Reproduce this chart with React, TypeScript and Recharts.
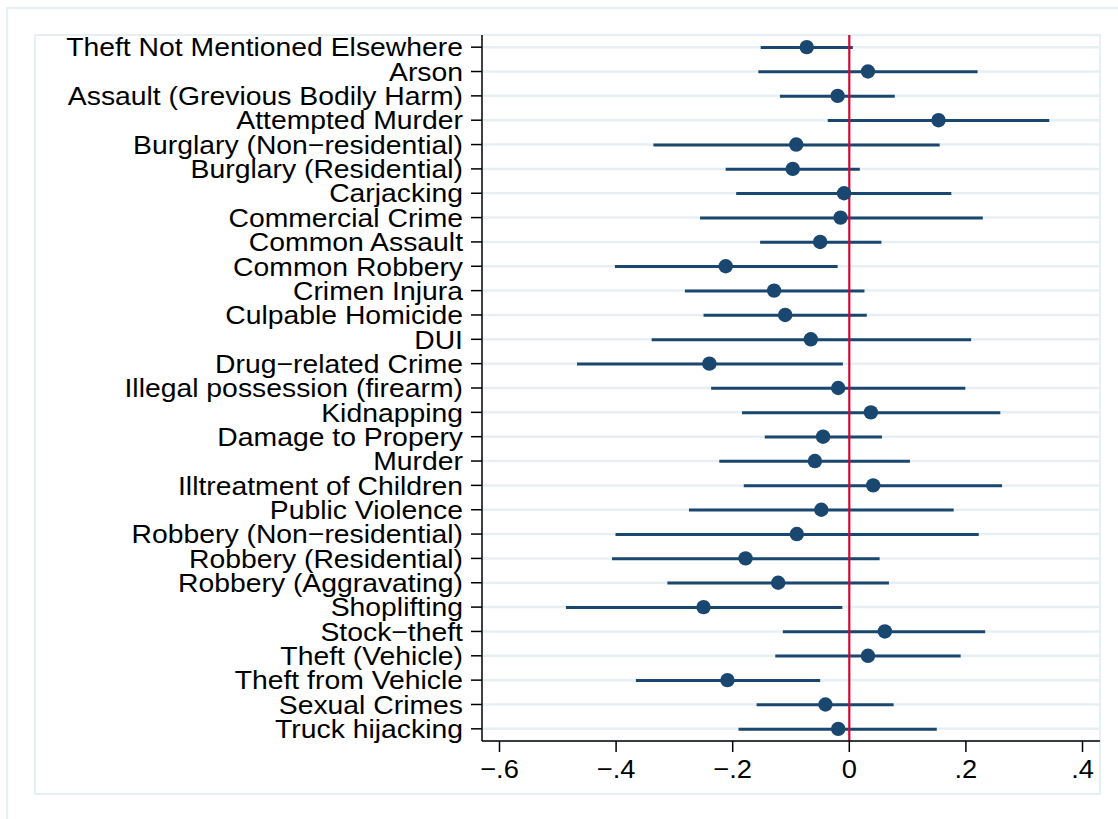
import { Bar, CartesianGrid, ComposedChart, Line, ReferenceLine, XAxis, YAxis } from "recharts";

// coefficient plot: point estimate + 95% CI per crime category
const categories = [
  "Theft Not Mentioned Elsewhere",
  "Arson",
  "Assault (Grevious Bodily Harm)",
  "Attempted Murder",
  "Burglary (Non−residential)",
  "Burglary (Residential)",
  "Carjacking",
  "Commercial Crime",
  "Common Assault",
  "Common Robbery",
  "Crimen Injura",
  "Culpable Homicide",
  "DUI",
  "Drug−related Crime",
  "Illegal possession (firearm)",
  "Kidnapping",
  "Damage to Propery",
  "Murder",
  "Illtreatment of Children",
  "Public Violence",
  "Robbery (Non−residential)",
  "Robbery (Residential)",
  "Robbery (Aggravating)",
  "Shoplifting",
  "Stock−theft",
  "Theft (Vehicle)",
  "Theft from Vehicle",
  "Sexual Crimes",
  "Truck hijacking",
];

const estimates = [
  -0.073, 0.032, -0.02, 0.153, -0.091, -0.097, -0.009, -0.015, -0.05, -0.212,
  -0.129, -0.11, -0.066, -0.24, -0.019, 0.037, -0.045, -0.059, 0.041, -0.048,
  -0.09, -0.178, -0.122, -0.25, 0.061, 0.032, -0.209, -0.041, -0.019,
];

const lower = [
  -0.152, -0.156, -0.119, -0.037, -0.336, -0.212, -0.194, -0.256, -0.153, -0.402,
  -0.282, -0.25, -0.339, -0.467, -0.237, -0.184, -0.145, -0.223, -0.181, -0.275,
  -0.401, -0.407, -0.312, -0.486, -0.114, -0.127, -0.366, -0.159, -0.19,
];

const upper = [
  0.006, 0.22, 0.078, 0.343, 0.155, 0.018, 0.175, 0.229, 0.055, -0.02,
  0.026, 0.03, 0.209, -0.011, 0.199, 0.259, 0.056, 0.104, 0.262, 0.179,
  0.222, 0.052, 0.068, -0.012, 0.233, 0.191, -0.05, 0.076, 0.15,
];

const xTicks = [-0.6, -0.4, -0.2, 0, 0.2, 0.4];

const data = categories.map((name, i) => ({
  name,
  est: estimates[i],
  ci: [lower[i], upper[i]],
}));

const NAVY = "#1a476f";
const FRAME = "#e8eff2";
const FONT = "'Liberation Sans', Arial, Helvetica, sans-serif";
const FS = 26;
const STRETCH = 1.09;

function fmtTick(v: number) {
  if (v === 0) return "0";
  const s = String(Math.abs(v)).replace(/^0/, "");
  return (v < 0 ? "−" : "") + s;
}

function YTick({ x, y, payload }: any) {
  return (
    <text
      transform={`translate(${x},${y}) scale(${STRETCH},1)`}
      textAnchor="end"
      dy="0.355em"
      fontSize={FS}
      fontFamily={FONT}
      fill="#000"
    >
      {payload.value}
    </text>
  );
}

function XTick({ x, y, payload }: any) {
  return (
    <text
      transform={`translate(${x},${y}) scale(1.05,1)`}
      textAnchor="middle"
      dy="0.71em"
      fontSize={FS}
      fontFamily={FONT}
      fill="#000"
    >
      {fmtTick(payload.value)}
    </text>
  );
}

export default function App() {
  return (
    <div style={{ position: "absolute", left: 0, top: 0, width: 1118, height: 819, background: "#fff", overflow: "hidden" }}>
      {/* graph region + plot region frames */}
      <div style={{ position: "absolute", left: 6, top: 7, width: 1130, height: 830, border: `2px solid ${FRAME}` }} />
      <div style={{ position: "absolute", left: 34, top: 34, width: 1063, height: 757, border: `2px solid ${FRAME}` }} />
      <div style={{ position: "absolute", left: 0, top: 0 }}>
        <ComposedChart
          width={1118}
          height={819}
          layout="vertical"
          data={data}
          margin={{ top: 35, right: 18, bottom: 38, left: 0 }}
        >
          <CartesianGrid horizontal vertical={false} stroke={FRAME} strokeWidth={2.5} />
          <XAxis
            type="number"
            domain={[-0.63, 0.43]}
            ticks={xTicks}
            allowDataOverflow
            height={40}
            tickSize={11}
            tickMargin={8}
            stroke="#000"
            strokeWidth={1.5}
            tick={<XTick />}
          />
          <YAxis
            type="category"
            dataKey="name"
            width={482}
            interval={0}
            tickSize={11}
            tickMargin={8}
            stroke="#000"
            strokeWidth={1.5}
            tick={<YTick />}
          />
          <ReferenceLine x={0} stroke="#cc0a35" strokeWidth={2.2} />
          <Bar dataKey="ci" barSize={3} fill={NAVY} isAnimationActive={false} />
          <Line
            dataKey="est"
            stroke="none"
            dot={{ r: 7.2, fill: NAVY, stroke: NAVY, strokeWidth: 0 }}
            activeDot={false}
            isAnimationActive={false}
          />
        </ComposedChart>
      </div>
    </div>
  );
}
